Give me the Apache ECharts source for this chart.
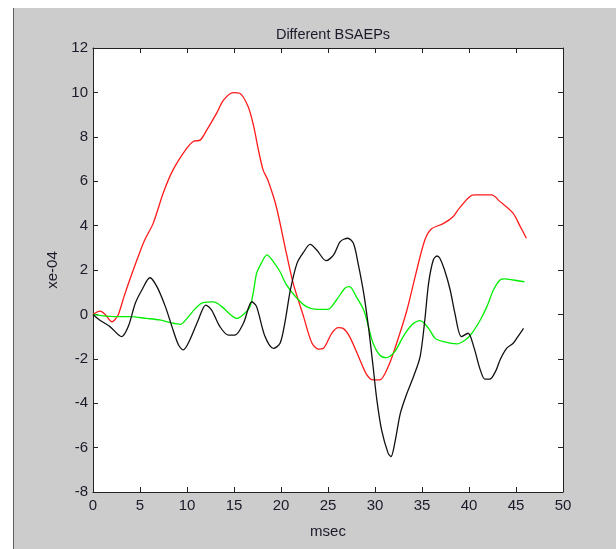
<!DOCTYPE html>
<html>
<head>
<meta charset="utf-8">
<script src="https://cdn.jsdelivr.net/npm/echarts@6/dist/echarts.min.js"></script>
<style>
    html, body { margin: 0; padding: 0; background: #fff; }
    #chart { width: 616px; height: 549px; }
</style>
</head>
<body>
<div id="chart"></div>
<script>
// time in msec, amplitude in xe-04
const redCurve = [
    [0, 0], [0.75, 0.15], [1.3, 0], [2.0, -0.33], [2.3, -0.25], [2.7, 0], [3.3, 0.8],
    [3.9, 1.55], [4.8, 2.6], [5.5, 3.35], [6.4, 4.1], [7.5, 5.5], [8.5, 6.5], [10, 7.5],
    [10.7, 7.8], [11.4, 7.85], [12.1, 8.3], [13.2, 9.1], [13.9, 9.66], [14.9, 9.99],
    [15.6, 9.96], [16.5, 9.36], [17.1, 8.46], [17.6, 7.4], [18.1, 6.5], [18.6, 6.05],
    [19.5, 4.85], [20.6, 2.7], [21.3, 1.4], [22.4, -0.1], [23.3, -1.3], [24.0, -1.56],
    [24.5, -1.53], [25.4, -0.85], [26.1, -0.6], [26.6, -0.63], [27.3, -1.0], [28.4, -2.05],
    [29.1, -2.7], [29.8, -2.95], [30.5, -2.95], [31.4, -2.36], [32.3, -1.3], [33.4, 0.2],
    [34.3, 1.75], [35.3, 3.35], [36.0, 3.85], [37.3, 4.1], [38.3, 4.4], [39.0, 4.8],
    [40.5, 5.38], [42.4, 5.38], [43.3, 5.08], [44.7, 4.55], [45.4, 4.0], [46.1, 3.43]
];
const blackCurve = [
    [0, 0], [0.7, -0.25], [1.8, -0.55], [3.05, -1.0], [3.75, -0.55], [4.5, 0.5], [5.2, 1.1],
    [6.06, 1.65], [6.8, 1.25], [7.7, 0.35], [8.4, -0.55], [9.1, -1.38], [9.6, -1.6],
    [10.3, -1.15], [11.2, -0.25], [12.0, 0.42], [12.6, 0.2], [13.5, -0.55], [14.4, -0.93],
    [15.1, -0.93], [16.0, -0.4], [16.9, 0.57], [17.4, 0.35], [18.3, -1.0], [19.2, -1.53],
    [19.9, -1.3], [20.4, -0.4], [21.0, 1.1], [21.7, 2.3], [22.4, 2.8], [23.1, 3.15],
    [23.8, 2.9], [24.8, 2.42], [25.6, 2.68], [26.3, 3.28], [27.1, 3.43], [27.7, 3.2],
    [28.2, 2.3], [28.8, 0.95], [29.3, -0.55], [29.8, -2.36], [30.2, -3.86], [30.7, -5.2],
    [31.4, -6.26], [31.7, -6.4], [32.1, -5.8], [32.7, -4.45], [33.4, -3.55], [34.1, -2.8],
    [34.8, -1.9], [35.3, -0.25], [35.7, 1.4], [36.2, 2.45], [36.6, 2.63], [36.9, 2.53],
    [37.4, 2.0], [38.0, 1.1], [38.5, 0.05], [39.2, -1.0], [39.9, -0.85], [40.5, -1.45],
    [41.2, -2.5], [41.7, -2.92], [42.2, -2.92], [42.9, -2.5], [43.3, -2.05], [44.0, -1.53],
    [44.7, -1.3], [45.2, -1.0], [45.8, -0.63]
];
const greenCurve = [
    [0, 0], [2.2, -0.1], [3.9, -0.1], [5.7, -0.18], [7.1, -0.25], [8.2, -0.37], [9.3, -0.45],
    [10.0, -0.18], [10.9, 0.27], [11.7, 0.53], [12.8, 0.56], [13.7, 0.35], [14.6, 0],
    [15.3, -0.18], [16.0, 0], [16.7, 0.35], [17.1, 1.1], [17.4, 1.85], [17.9, 2.3],
    [18.5, 2.68], [19.2, 2.37], [19.9, 1.92], [20.6, 1.32], [21.7, 0.73], [22.7, 0.35],
    [23.8, 0.23], [25.0, 0.23], [25.9, 0.65], [26.8, 1.18], [27.3, 1.25], [28.0, 0.8],
    [28.8, 0.2], [29.3, -0.55], [29.8, -1.3], [30.5, -1.83], [31.2, -1.95], [32.1, -1.68],
    [33.0, -1.0], [33.9, -0.48], [34.8, -0.28], [35.7, -0.63], [36.4, -1.08], [37.3, -1.23],
    [38.7, -1.33], [39.6, -1.15], [40.3, -0.85], [41.2, -0.25], [41.9, 0.35], [42.6, 1.1],
    [43.3, 1.55], [43.8, 1.6], [44.7, 1.55], [45.9, 1.47]
];
const xRange = [0, 50, 5];
const yRange = [-8, 12, 2];

const font = "'Liberation Sans', Arial, sans-serif";
const textColor = "#1a1a2a";

let chart = echarts.init(document.getElementById("chart"));

const axisCommon = {
    type: "value",
    axisLine: { show: true, onZero: false, lineStyle: { color: "#222", width: 1 } },
    axisTick: { show: true, inside: true, length: 5, lineStyle: { color: "#222" } },
    splitLine: { show: false }
};

const makeLine = (data, color) => ({
    type: "line",
    data: data,
    showSymbol: false,
    smooth: 0.3,
    lineStyle: { color: color, width: 1.3 },
    animation: false
});

chart.setOption({
    backgroundColor: "#cccccc",
    textStyle: { fontFamily: font },
    graphic: [
        { type: "rect", shape: { x: 0, y: 0, width: 13, height: 549 }, style: { fill: "#fff" } },
        { type: "rect", shape: { x: 0, y: 0, width: 616, height: 8 }, style: { fill: "#fff" } },
        { type: "rect", shape: { x: 13, y: 8, width: 1, height: 541 }, style: { fill: "#5a6060" } }
    ],
    title: {
        text: "Different BSAEPs",
        left: 328,
        top: 22,
        textAlign: "center",
        textStyle: { fontFamily: font, fontSize: 14.5, fontWeight: "normal", color: textColor }
    },
    grid: {
        left: 93, top: 48, width: 470, height: 444,
        show: true, backgroundColor: "#fff", borderWidth: 0
    },
    xAxis: [
        Object.assign({}, axisCommon, {
            position: "bottom",
            min: xRange[0], max: xRange[1], interval: xRange[2],
            name: "msec", nameLocation: "middle", nameGap: 32,
            nameTextStyle: { fontFamily: font, fontSize: 15, color: textColor },
            axisLabel: { fontFamily: font, fontSize: 15, color: textColor, margin: 6 }
        }),
        Object.assign({}, axisCommon, {
            position: "top",
            min: xRange[0], max: xRange[1], interval: xRange[2],
            axisLabel: { show: false }
        })
    ],
    yAxis: [
        Object.assign({}, axisCommon, {
            position: "left",
            min: yRange[0], max: yRange[1], interval: yRange[2],
            name: "xe-04", nameLocation: "middle", nameGap: 24,
            nameTextStyle: { fontFamily: font, fontSize: 15, color: textColor },
            axisLabel: { fontFamily: font, fontSize: 15, color: textColor, margin: 5 }
        }),
        Object.assign({}, axisCommon, {
            position: "right",
            min: yRange[0], max: yRange[1], interval: yRange[2],
            axisLabel: { show: false }
        })
    ],
    series: [
        makeLine(redCurve, "#ff1a1a"),
        makeLine(greenCurve, "#00ee00"),
        makeLine(blackCurve, "#111111")
    ]
});
</script>
</body>
</html>
